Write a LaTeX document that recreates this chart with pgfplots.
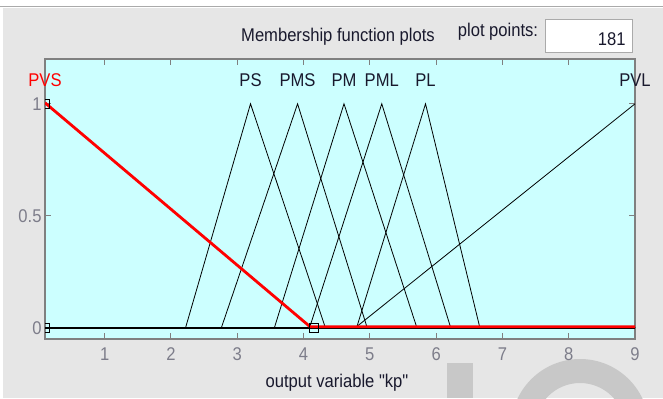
\documentclass[border=0pt]{standalone}
\usepackage{pgfplots}
\pgfplotsset{compat=1.18}
\usepackage{fontspec}
\setmainfont{Liberation Sans}[FakeStretch=0.9, Ligatures=TeXOff]

\definecolor{panel}{RGB}{230,230,230}
\definecolor{plotbg}{RGB}{204,255,255}
\definecolor{axgray}{RGB}{128,128,128}
\definecolor{ticktext}{RGB}{125,125,138}
\definecolor{wmark}{RGB}{200,200,200}
\definecolor{boxline}{RGB}{170,170,170}
\definecolor{mflabel}{RGB}{25,25,45}

\newcommand{\uifont}{\fontsize{18.5}{20}\selectfont}

\begin{document}
\begin{tikzpicture}
\begin{scope}[x=1bp,y=1bp]
  \useasboundingbox (0,0) rectangle (663,398);
  \fill[white] (0,0) rectangle (663,398);
  \fill[panel] (3,0) rectangle (663,390);
  \draw[boxline, line width=1.5bp] (0,391.5) -- (663,391.5);
  % faint lettering in the lower right corner
  \fill[wmark] (447,0) rectangle (473,35);
  \begin{scope}
    \clip (0,0) rectangle (663,398);
    \fill[wmark, even odd rule] (580,-30) circle (69) (580,-30) circle (45);
  \end{scope}
  % header
  \node[font=\uifont, text=mflabel] at (338,361) {Membership function plots};
  \node[font=\uifont, text=mflabel] at (498,366) {plot points:};
  \filldraw[fill=white, draw=boxline, line width=1bp] (545,346) rectangle (632,378);
  \node[font=\uifont, text=mflabel, anchor=east] at (629,359) {181};
  % axis caption
  \node[font=\uifont, text=mflabel] at (337,15) {output variable "kp"};
\end{scope}

\begin{axis}[
  at={(45bp,59bp)}, anchor=south west,
  scale only axis, width=590bp, height=280bp,
  xmin=0.1, xmax=9, ymin=-0.05, ymax=1.2,
  xtick={1,...,9}, ytick={0,0.5,1},
  tick align=inside, major tick length=6bp,
  axis background/.style={fill=plotbg},
  axis line style={axgray, line width=1.5bp},
  tick style={axgray, line width=1bp},
  ticklabel style={font=\uifont, text=ticktext},
  /pgf/number format/assume math mode=true,
  xticklabel style={yshift=-5bp},
  clip mode=individual,
  clip marker paths=true,
]
% triangular membership functions
\addplot[black, line width=0.8bp] coordinates {(0.1,0) (2.22,0) (3.20,1) (4.33,0) (9,0)};
\addplot[black, line width=0.8bp] coordinates {(0.1,0) (2.76,0) (3.91,1) (4.96,0) (9,0)};
\addplot[black, line width=0.8bp] coordinates {(0.1,0) (3.56,0) (4.61,1) (5.71,0) (9,0)};
\addplot[black, line width=0.8bp] coordinates {(0.1,0) (4.09,0) (5.18,1) (6.22,0) (9,0)};
\addplot[black, line width=0.8bp] coordinates {(0.1,0) (4.80,0) (5.84,1) (6.66,0) (9,0)};
\addplot[black, line width=0.8bp] coordinates {(0.1,0) (4.78,0) (9,1)};
\addplot[black, line width=1.4bp] coordinates {(0.1,0) (9,0)};
% selected function
\addplot[red, line width=2.8bp, yshift=1bp] coordinates {(0.1,1) (4.1,0) (9,0)};
\addplot[only marks, mark=square, mark size=4.5bp, black, line width=0.9bp]
  coordinates {(0.1,1) (0.1,0) (4.15,0)};
% function names
\node[font=\uifont, text=red] at (axis cs:0.1,1.105) {PVS};
\node[font=\uifont, text=mflabel] at (axis cs:3.20,1.105) {PS};
\node[font=\uifont, text=mflabel] at (axis cs:3.91,1.105) {PMS};
\node[font=\uifont, text=mflabel] at (axis cs:4.61,1.105) {PM};
\node[font=\uifont, text=mflabel] at (axis cs:5.18,1.105) {PML};
\node[font=\uifont, text=mflabel] at (axis cs:5.84,1.105) {PL};
\node[font=\uifont, text=mflabel] at (axis cs:9,1.105) {PVL};
\end{axis}
\end{tikzpicture}
\end{document}
